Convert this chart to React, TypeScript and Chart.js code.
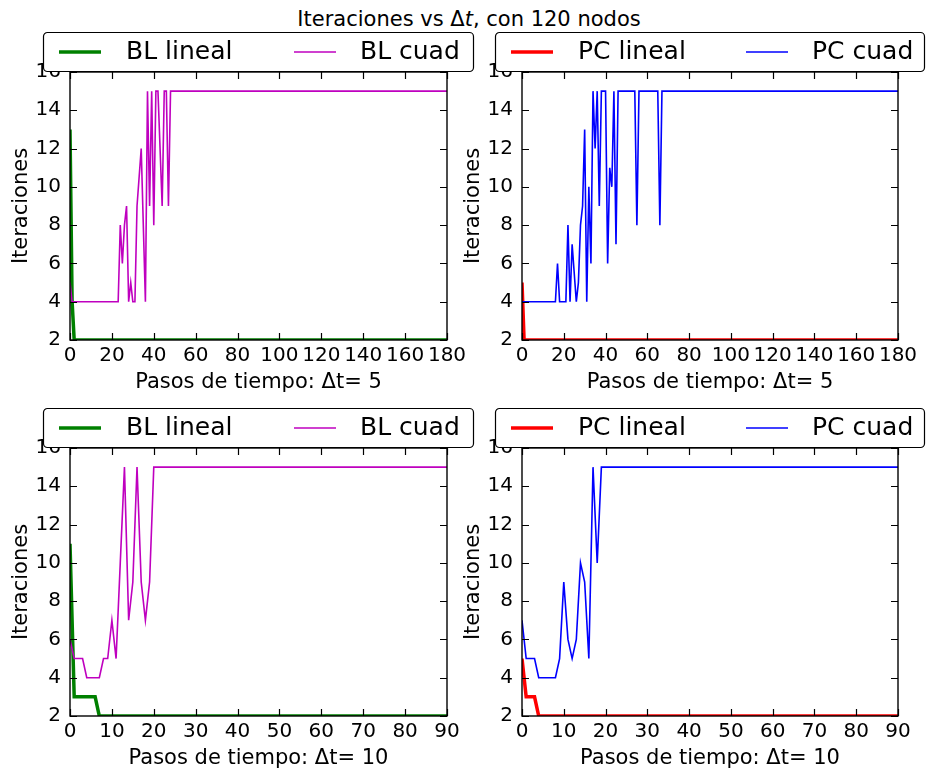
import React, { useEffect, useRef } from "react";
import { Chart, registerables } from "chart.js";

Chart.register(...registerables);

const FONT = "'DejaVu Sans', 'Liberation Sans', sans-serif";

// ---- Data (x = time step, y = iterations), vertices ----
// Δt = 5
const blLineal5X = [0, 1, 2, 180];
const blLineal5Y = [13, 4, 2, 2];
const blCuad5X = [0, 1, 23, 24, 25, 26, 27, 28, 29, 30, 31, 32, 33, 34, 35, 36, 37, 38, 39, 40, 41, 42, 43, 44, 45, 46, 47, 48, 180];
const blCuad5Y = [5, 4, 4, 8, 6, 8, 9, 4, 5, 4, 4, 9, 10.5, 12, 8, 4, 15, 9, 15, 8, 15, 15, 12, 9, 15, 15, 9, 15, 15];

const pcLineal5X = [0, 1, 180];
const pcLineal5Y = [5, 2, 2];
const pcCuad5X = [0, 16, 17, 18, 21, 22, 23, 24, 26, 27, 28, 29, 30, 31, 32, 33, 34, 35, 36, 37, 38, 40, 41, 42, 43, 44, 45, 46, 54, 55, 56, 65, 66, 67, 180];
const pcCuad5Y = [4, 4, 6, 4, 4, 8, 4, 7, 4, 5, 8, 9, 13, 4, 10, 6, 15, 12, 15, 9, 15, 15, 6, 11, 10, 15, 7, 15, 15, 8, 15, 15, 8, 15, 15];

// Δt = 10
const blLineal10X = [0, 1, 6, 7, 90];
const blLineal10Y = [11, 3, 3, 2, 2];
const blCuad10X = [0, 1, 3, 4, 7, 8, 9, 10, 11, 12, 13, 14, 15, 16, 17, 18, 19, 20, 90];
const blCuad10Y = [6, 5, 5, 4, 4, 5, 5, 7, 5, 10, 15, 7, 9, 15, 9, 7, 9, 15, 15];

const pcLineal10X = [0, 1, 3, 4, 90];
const pcLineal10Y = [5, 3, 3, 2, 2];
const pcCuad10X = [0, 1, 3, 4, 8, 9, 10, 11, 12, 13, 14, 15, 16, 17, 18, 19, 90];
const pcCuad10Y = [7, 5, 5, 4, 4, 5, 9, 6, 5, 6, 10, 9, 5, 15, 10, 15, 15];

// Axis settings
const yTitle = "Iteraciones";
const yMin = 2;
const yMax = 16;
const yStep = 2;
const xTitle5 = "Pasos de tiempo: Δt= 5";
const xTitle10 = "Pasos de tiempo: Δt= 10";
const xMax5 = 180;
const xMax10 = 90;
const xStep5 = 20;
const xStep10 = 10;

const blNames = ["BL lineal", "BL cuad"];
const pcNames = ["PC lineal", "PC cuad"];
const blColors = ["#008000", "#bf00bf"];
const pcColors = ["#ff0000", "#0000ff"];

type PanelDef = {
  left: number;
  top: number;
  width: number;
  height: number;
  padRight: number;
  names: string[];
  colors: string[];
  x1: number[];
  y1: number[];
  x2: number[];
  y2: number[];
  xMax: number;
  xStep: number;
  xTitle: string;
};

const zip = (xs: number[], ys: number[]) => xs.map((x, i) => ({ x, y: ys[i] }));

const framePlugin = {
  id: "frameTicks",
  afterDatasetsDraw(chart: any) {
    const { ctx, chartArea: ca } = chart;
    const xs = chart.scales.x;
    const ys = chart.scales.y;
    const tl = 7;
    ctx.save();
    ctx.strokeStyle = "#000";
    ctx.lineWidth = 1.2;
    ctx.beginPath();
    xs.ticks.forEach((t: any) => {
      const px = Math.round(xs.getPixelForValue(t.value)) + 0.5;
      ctx.moveTo(px, ca.bottom);
      ctx.lineTo(px, ca.bottom - tl);
      ctx.moveTo(px, ca.top);
      ctx.lineTo(px, ca.top + tl);
    });
    ys.ticks.forEach((t: any) => {
      const py = Math.round(ys.getPixelForValue(t.value)) + 0.5;
      ctx.moveTo(ca.left, py);
      ctx.lineTo(ca.left + tl, py);
      ctx.moveTo(ca.right, py);
      ctx.lineTo(ca.right - tl, py);
    });
    ctx.stroke();
    ctx.lineWidth = 1.4;
    ctx.strokeRect(ca.left, ca.top, ca.right - ca.left, ca.bottom - ca.top);
    ctx.restore();
  },
};

const legendBoxPlugin = {
  id: "legendBox",
  afterDraw(chart: any) {
    const { ctx, chartArea: ca } = chart;
    const ds = chart.data.datasets;
    const bx = ca.left - 27;
    const by = ca.top - 40;
    const bw = (ca.right - ca.left) + 54;
    const bh = 40;
    ctx.save();
    ctx.fillStyle = "#fff";
    ctx.strokeStyle = "#000";
    ctx.lineWidth = 1.2;
    ctx.beginPath();
    ctx.roundRect(bx + 0.5, by + 0.5, bw - 1, bh - 1, 4);
    ctx.fill();
    ctx.stroke();
    const cy = by + 20;
    const items = [
      { lineX: bx + 16, textX: bx + 83, ds: ds[0] },
      { lineX: bx + 251, textX: bx + 317, ds: ds[1] },
    ];
    items.forEach((it) => {
      ctx.strokeStyle = it.ds.borderColor;
      ctx.lineWidth = it.ds.borderWidth;
      ctx.beginPath();
      ctx.moveTo(it.lineX, cy);
      ctx.lineTo(it.lineX + 42, cy);
      ctx.stroke();
      ctx.fillStyle = "#000";
      ctx.font = `25px ${FONT}`;
      ctx.textBaseline = "middle";
      ctx.textAlign = "left";
      ctx.fillText(it.ds.label, it.textX, cy + 0.5);
    });
    ctx.restore();
  },
};

function Panel({ def }: { def: PanelDef }) {
  const ref = useRef<HTMLCanvasElement | null>(null);
  useEffect(() => {
    if (!ref.current) return;
    const chart = new Chart(ref.current, {
      type: "line",
      data: {
        datasets: [
          {
            label: def.names[0],
            data: zip(def.x1, def.y1),
            borderColor: def.colors[0],
            backgroundColor: def.colors[0],
            borderWidth: 3.5,
            pointRadius: 0,
            tension: 0,
            clip: 0,
            order: 1,
          },
          {
            label: def.names[1],
            data: zip(def.x2, def.y2),
            borderColor: def.colors[1],
            backgroundColor: def.colors[1],
            borderWidth: 1.6,
            pointRadius: 0,
            tension: 0,
            clip: 0,
            order: 0,
          },
        ],
      } as any,
      options: {
        animation: false,
        responsive: false,
        devicePixelRatio: 1,
        events: [],
        layout: { padding: { top: 42, right: def.padRight, left: 0, bottom: 0 } },
        plugins: {
          legend: { display: false },
          tooltip: { enabled: false },
          title: { display: false },
        },
        scales: {
          x: {
            type: "linear",
            min: 0,
            max: def.xMax,
            grid: { display: false, drawTicks: false },
            border: { display: false },
            ticks: {
              stepSize: def.xStep,
              autoSkip: false,
              maxRotation: 0,
              minRotation: 0,
              padding: 4,
              color: "#000",
              font: { family: FONT, size: 20 },
            },
            title: {
              display: true,
              text: def.xTitle,
              color: "#000",
              font: { family: FONT, size: 21 },
              padding: 0,
            },
            afterFit: (s: any) => {
              s.height = 55;
            },
          },
          y: {
            type: "linear",
            min: yMin,
            max: yMax,
            grid: { display: false, drawTicks: false },
            border: { display: false },
            ticks: {
              stepSize: yStep,
              padding: 9,
              color: "#000",
              font: { family: FONT, size: 20 },
            },
            title: {
              display: true,
              text: yTitle,
              color: "#000",
              font: { family: FONT, size: 21 },
              padding: { top: 9, bottom: 0 },
            },
            afterFit: (s: any) => {
              s.width = 70;
            },
          },
        },
      } as any,
      plugins: [framePlugin, legendBoxPlugin],
    });
    return () => chart.destroy();
  }, [def]);
  return (
    <canvas
      ref={ref}
      width={def.width}
      height={def.height}
      style={{
        position: "absolute",
        left: def.left,
        top: def.top,
        width: def.width,
        height: def.height,
      }}
    />
  );
}

const panels: PanelDef[] = [
  {
    left: 0, top: 30, width: 475, height: 365, padRight: 28,
    names: blNames, colors: blColors,
    x1: blLineal5X, y1: blLineal5Y, x2: blCuad5X, y2: blCuad5Y,
    xMax: xMax5, xStep: xStep5, xTitle: xTitle5,
  },
  {
    left: 452, top: 30, width: 475, height: 365, padRight: 29,
    names: pcNames, colors: pcColors,
    x1: pcLineal5X, y1: pcLineal5Y, x2: pcCuad5X, y2: pcCuad5Y,
    xMax: xMax5, xStep: xStep5, xTitle: xTitle5,
  },
  {
    left: 0, top: 406, width: 475, height: 365, padRight: 28,
    names: blNames, colors: blColors,
    x1: blLineal10X, y1: blLineal10Y, x2: blCuad10X, y2: blCuad10Y,
    xMax: xMax10, xStep: xStep10, xTitle: xTitle10,
  },
  {
    left: 452, top: 406, width: 475, height: 365, padRight: 29,
    names: pcNames, colors: pcColors,
    x1: pcLineal10X, y1: pcLineal10Y, x2: pcCuad10X, y2: pcCuad10Y,
    xMax: xMax10, xStep: xStep10, xTitle: xTitle10,
  },
];

export default function App() {
  return (
    <div
      style={{
        position: "fixed",
        left: 0,
        top: 0,
        width: 927,
        height: 775,
        background: "#fff",
        overflow: "hidden",
      }}
    >
      <div
        style={{
          position: "absolute",
          left: 0,
          top: 7,
          width: 938,
          textAlign: "center",
          fontFamily: FONT,
          fontSize: 21,
          lineHeight: "24px",
          color: "#000",
          whiteSpace: "nowrap",
        }}
      >
        Iteraciones vs Δ<i>t</i>, con 120 nodos
      </div>
      {panels.map((p, i) => (
        <Panel key={i} def={p} />
      ))}
    </div>
  );
}
